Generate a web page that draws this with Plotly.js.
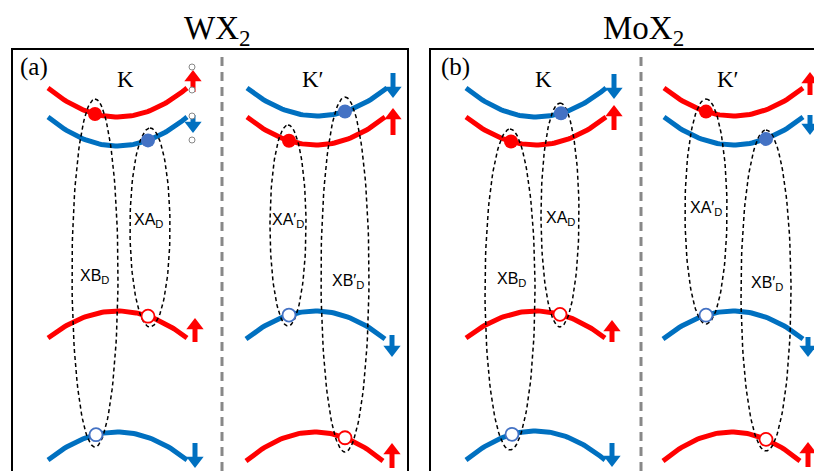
<!DOCTYPE html>
<html>
<head>
<meta charset="utf-8">
<script src="https://cdn.plot.ly/plotly-3.0.1.min.js"></script>
<style>html,body{margin:0;padding:0;background:#fff;}#plot{width:814px;height:471px;}</style>
</head>
<body>
<div id="plot"></div>
<script>
// ---- schematic data (pixel-like coordinate space 0..814 x 0..471) ----
// bands: order per valley = upper CB, lower CB, upper VB, lower VB
const bandX0 = [48,48,48,48, 247,247,246,246, 466,466,466,466, 664,664,663,663];
const bandX1 = [187,187,187,187, 387,385,385,383, 606,606,605,605, 803,803,803,800];
const bandYEnd = [88,117,338,460, 88,117,339,461, 88,117,338,460, 88,117,339,461];
const bandYVertex = [117,146,311,432, 116,145,311,432, 117,145,311,431, 116,145,311,432];
const bandSpin = ['up','down','up','down', 'down','up','down','up', 'down','up','up','down', 'up','down','down','up'];

// filled electron dots (band index, x)
const elecBand = [0,1,4,5,8,9,12,13];
const elecX = [95,148,345,289,561,511,706,766];
// open hole circles (band index, x)
const holeBand = [2,3,6,7,10,11,14,15];
const holeX = [148,96,289,345,560,512,706,766];

// exciton ovals
const excCx = [95,150,288,345, 510,560,706,766];
const excTop = [99,128,125,97, 129,103,99,130];
const excBot = [447,327,326,452, 450,327,324,451];
const excHw = [23,20,18,24, 25,19,21,25];
const excLabel = ['XB<sub>D</sub>','XA<sub>D</sub>','XA′<sub>D</sub>','XB′<sub>D</sub>','XB<sub>D</sub>','XA<sub>D</sub>','XA′<sub>D</sub>','XB′<sub>D</sub>'];
const excLabelX = [94,148,288,348, 511,560,706,767];
const excLabelY = [276,220,220,281, 279,218,208,283];

// spin arrows (same order as bands)
const arrX = [193,193,195,195, 393,393,392,392, 614,614,612,612, 810,810,808,808];
const arrTail = [92,115,342,443, 73,135,335,468, 74,130,342,443, 95,115,337,467];
const arrHead = [70,133,318,468, 98,108,357,443, 99,105,320,467, 72,135,357,442];

// stray selection handles in panel (a)
const handleX = [192,192,192,192];
const handleY = [67,90,116,140];

// text
const titles = ['WX<sub>2</sub>','MoX<sub>2</sub>'];
const titleX = [217,643];
const panelTags = ['(a)','(b)'];
const panelTagX = [34,455];
const valleyNames = ['K','K′','K','K′'];
const valleyX = [125,313,543,728];

const RED = '#ff0000', BLUE = '#0070c0', DOTBLUE = '#4472c4';
const spinColor = s => s === 'up' ? RED : BLUE;

function bandY(i, x) {
  const c = (bandX0[i] + bandX1[i]) / 2, hw = (bandX1[i] - bandX0[i]) / 2;
  const u = (x - c) / hw;
  return bandYVertex[i] + (bandYEnd[i] - bandYVertex[i]) * u * u;
}

const traces = [];
for (let i = 0; i < bandX0.length; i++) {
  const xs = [], ys = [];
  for (let k = 0; k <= 60; k++) {
    const x = bandX0[i] + (bandX1[i] - bandX0[i]) * k / 60;
    xs.push(x); ys.push(bandY(i, x));
  }
  traces.push({x: xs, y: ys, mode: 'lines', line: {color: spinColor(bandSpin[i]), width: 5}, hoverinfo: 'skip'});
}
// spin arrows: shaft + triangular head
const HEAD_R = 7.5;
for (let i = 0; i < arrX.length; i++) {
  const dir = arrHead[i] < arrTail[i] ? -1 : 1; // -1 = pointing up on screen
  const headCenter = arrHead[i] - dir * HEAD_R;
  traces.push({x: [arrX[i], arrX[i]], y: [arrTail[i], headCenter], mode: 'lines',
    line: {color: spinColor(bandSpin[i]), width: 5}, hoverinfo: 'skip'});
  traces.push({x: [arrX[i]], y: [headCenter], mode: 'markers',
    marker: {symbol: dir < 0 ? 'triangle-up' : 'triangle-down', size: HEAD_R * 2, color: spinColor(bandSpin[i]), line: {width: 0}},
    hoverinfo: 'skip'});
}
for (let j = 0; j < excCx.length; j++) {
  const cy = (excTop[j] + excBot[j]) / 2, ry = (excBot[j] - excTop[j]) / 2;
  const xs = [], ys = [];
  for (let k = 0; k <= 120; k++) {
    const t = 2 * Math.PI * k / 120;
    xs.push(excCx[j] + excHw[j] * Math.sin(t));
    ys.push(cy - ry * Math.cos(t));
  }
  traces.push({x: xs, y: ys, mode: 'lines', line: {color: '#000', width: 1.5, dash: '4px,3px'}, hoverinfo: 'skip'});
}
traces.push({
  x: elecX, y: elecX.map((x, k) => bandY(elecBand[k], x)), mode: 'markers',
  marker: {size: 14, color: elecBand.map(b => bandSpin[b] === 'up' ? RED : DOTBLUE), line: {width: 0}}, hoverinfo: 'skip'
});
traces.push({
  x: holeX, y: holeX.map((x, k) => bandY(holeBand[k], x)), mode: 'markers',
  marker: {size: 13, color: '#fff', line: {width: 1.8, color: holeBand.map(b => bandSpin[b] === 'up' ? RED : DOTBLUE)}}, hoverinfo: 'skip'
});
traces.push({
  x: handleX, y: handleY, mode: 'markers',
  marker: {size: 6, color: '#fff', line: {width: 1, color: '#888'}}, hoverinfo: 'skip'
});

const annotations = [];
for (let j = 0; j < excLabel.length; j++) {
  annotations.push({x: excLabelX[j], y: excLabelY[j], xref: 'x', yref: 'y', text: excLabel[j], showarrow: false,
    font: {family: 'Liberation Sans, Arial, sans-serif', size: 16, color: '#000'}});
}
for (let j = 0; j < titles.length; j++) {
  annotations.push({x: titleX[j], y: 30, xref: 'x', yref: 'y', text: titles[j], showarrow: false,
    font: {family: 'Liberation Serif, Times New Roman, serif', size: 33, color: '#000'}});
  annotations.push({x: panelTagX[j], y: 67, xref: 'x', yref: 'y', text: panelTags[j], showarrow: false,
    font: {family: 'Liberation Serif, Times New Roman, serif', size: 25, color: '#000'}});
}
for (let j = 0; j < valleyNames.length; j++) {
  annotations.push({x: valleyX[j], y: 79, xref: 'x', yref: 'y', text: valleyNames[j], showarrow: false,
    font: {family: 'Liberation Serif, Times New Roman, serif', size: 23, color: '#000'}});
}

const shapes = [
  {type: 'rect', xref: 'x', yref: 'y', x0: 12, x1: 408, y0: 49, y1: 490, line: {color: '#000', width: 2}},
  {type: 'rect', xref: 'x', yref: 'y', x0: 430, x1: 840, y0: 49, y1: 490, line: {color: '#000', width: 2}},
  {type: 'line', xref: 'x', yref: 'y', x0: 222, x1: 222, y0: 57, y1: 475, line: {color: '#888', width: 3, dash: '9px,6px'}},
  {type: 'line', xref: 'x', yref: 'y', x0: 641, x1: 641, y0: 57, y1: 475, line: {color: '#888', width: 3, dash: '9px,6px'}}
];

const layout = {
  width: 814, height: 471, margin: {l: 0, r: 0, t: 0, b: 0},
  paper_bgcolor: '#fff', plot_bgcolor: '#fff', showlegend: false,
  xaxis: {range: [0, 814], visible: false, fixedrange: true},
  yaxis: {range: [471, 0], visible: false, fixedrange: true},
  shapes: shapes, annotations: annotations
};
Plotly.newPlot('plot', traces, layout, {staticPlot: true, displayModeBar: false});
</script>
</body>
</html>
